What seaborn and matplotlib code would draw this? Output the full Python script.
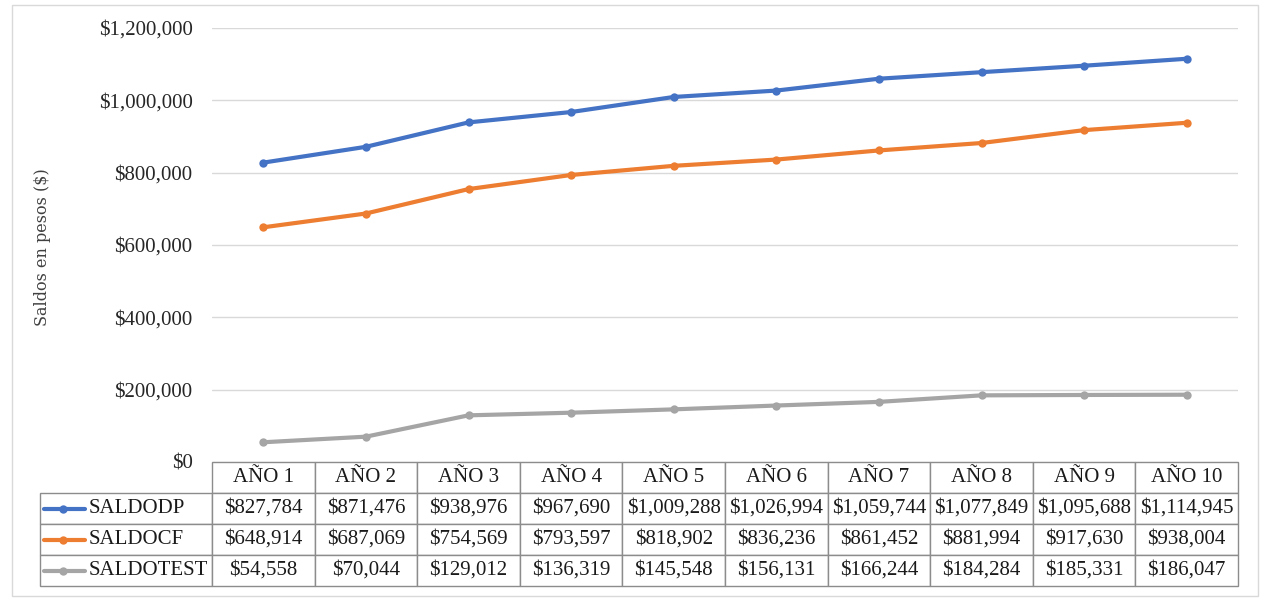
import numpy as np
import pandas as pd
import seaborn as sns
import matplotlib.pyplot as plt
from matplotlib.lines import Line2D
from matplotlib.patches import Rectangle

# datos
anios = ["AÑO 1", "AÑO 2", "AÑO 3", "AÑO 4", "AÑO 5", "AÑO 6", "AÑO 7", "AÑO 8", "AÑO 9", "AÑO 10"]
saldodp = [827784, 871476, 938976, 967690, 1009288, 1026994, 1059744, 1077849, 1095688, 1114945]
saldocf = [648914, 687069, 754569, 793597, 818902, 836236, 861452, 881994, 917630, 938004]
saldotest = [54558, 70044, 129012, 136319, 145548, 156131, 166244, 184284, 185331, 186047]
series = ["SALDODP", "SALDOCF", "SALDOTEST"]
colores = ["#4472C4", "#ED7D31", "#A5A5A5"]

df = pd.DataFrame({
    "pos": list(range(len(anios))) * 3,
    "valor": saldodp + saldocf + saldotest,
    "serie": [s for s in series for _ in anios],
})

sns.set_style("white")
plt.rcParams["font.family"] = ["Liberation Serif", "DejaVu Serif"]

fig = plt.figure(figsize=(12.64, 6.01), dpi=100)
ax = fig.add_axes([212 / 1264, 1 - 462 / 601, 1026 / 1264, 434 / 601])

sns.lineplot(data=df, x="pos", y="valor", hue="serie", palette=colores,
             marker="o", markersize=6, markeredgewidth=0, linewidth=3,
             legend=False, ax=ax)

ax.set_xlim(-0.5, len(anios) - 0.5)
ax.set_ylim(0, 1200000)
ax.set_yticks(np.arange(0, 1200001, 200000))
ax.set_yticklabels(["${:,.0f}".format(v) for v in ax.get_yticks()], fontsize=15, color="#262626")
ax.set_xticks([])
ax.set_xlabel("")
ax.set_ylabel("")
ax.tick_params(axis="y", length=0, pad=14)
ax.grid(axis="y", color="#D9D9D9", linewidth=1)
for s in ax.spines.values():
    s.set_visible(False)

# tabla de datos
filas = [saldodp, saldocf, saldotest]
celdas = [[series[i]] + ["${:,.0f}".format(v) for v in filas[i]] for i in range(3)]
anchos = [172] + [102.6] * 10
tabla = ax.table(cellText=celdas, colLabels=[""] + anios, colWidths=anchos,
                 cellLoc="center", bbox=[-172 / 1026, -124 / 434, 1198 / 1026, 124 / 434])
tabla.auto_set_font_size(False)
tabla.set_fontsize(15)
for (r, c), cell in tabla.get_celld().items():
    cell.set_edgecolor("#8C8C8C")
    cell.set_linewidth(1)
    cell.get_text().set_color("#1a1a1a")
    if c == 0:
        cell.get_text().set_ha("left")
        cell._loc = "left"
        cell.PAD = 0.285
    if r == 0 and c == 0:
        cell.set_edgecolor("white")
        cell.visible_edges = ""

# marcas de leyenda en la tabla
for i, col in enumerate(colores):
    yy = (-124 + (3 - i - 0.5) * 31) / 434
    ax.add_line(Line2D([-168 / 1026, -127 / 1026], [yy, yy], color=col, lw=3,
                       solid_capstyle="round", transform=ax.transAxes, clip_on=False))
    ax.add_line(Line2D([-149 / 1026], [yy], color=col, marker="o", markersize=6,
                       markeredgewidth=0, transform=ax.transAxes, clip_on=False))

fig.text(43 / 1264, 1 - 247 / 601, "Saldos en pesos ($)", rotation=90, va="center",
         ha="center", fontsize=11.5, family=["DejaVu Serif"], color="#404040")

fig.patches.append(Rectangle((12 / 1264, 1 - 596 / 601), 1246 / 1264, 591 / 601,
                             transform=fig.transFigure, fill=False,
                             edgecolor="#D9D9D9", linewidth=1))

fig.savefig("out.png", dpi=100)
